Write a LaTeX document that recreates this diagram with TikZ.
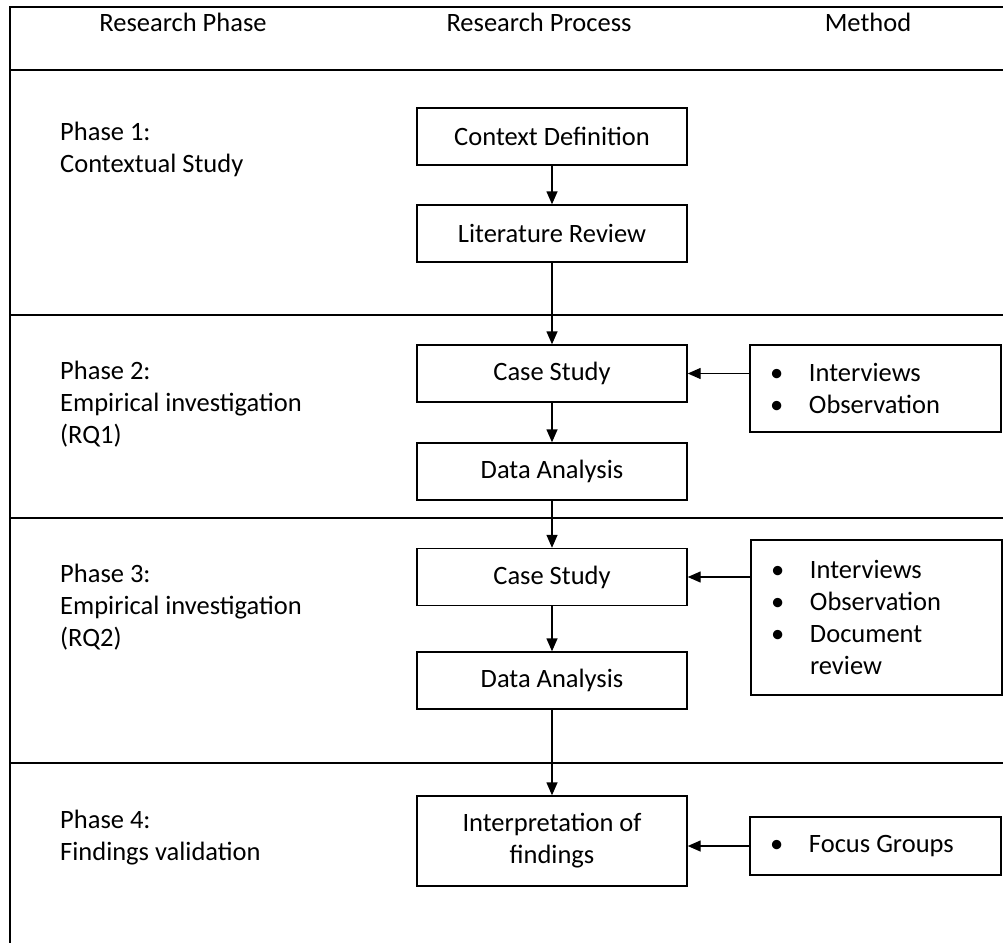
\documentclass[tikz,border=0pt]{standalone}
\usepackage{fontspec}
\setmainfont{Carlito}
\usetikzlibrary{positioning,arrows.meta}
\tikzset{%
  flowarrow/.style = {-{Triangle[length=13pt,width=11pt]},line width=1.4pt},
  rule/.style = {line width=1.4pt},
  procbox/.style = {rectangle,draw,line width=1.4pt,minimum width=270pt,
        minimum height=57pt,align=center,inner sep=0pt},
  methbox/.style = {rectangle,draw,line width=1.4pt,inner xsep=20pt,
        inner ysep=0pt,text width=211pt,align=left},
  phaselbl/.style = {anchor=west,align=left,inner sep=0pt},
  headlbl/.style = {inner sep=0pt}
}
\newcommand{\bitem}[1]{\makebox[39pt][l]{\textbullet}{\spaceskip=0pt #1}}
\begin{document}
\fontsize{26.5}{32}\selectfont
\begin{tikzpicture}[x=1pt,y=-1pt]
    \useasboundingbox (0,0) rectangle (1003,942);
    % frame and phase rules
    \draw[rule] (1010,7) -- (10,7) -- (10,950);
    \foreach \yy in {70,315,518,763}
        \draw[rule] (10,\yy) -- (1010,\yy);
    % headings
    \node[headlbl] (hphase) at (183,22) {Research Phase};
    \node[headlbl] (hproc) at (539,22) {Research Process};
    \node[headlbl] (hmeth) at (868,22) {Method};
    % phases
    \node[phaselbl] (ph1) at (60,149) {Phase 1:\\Contextual Study};
    \node[phaselbl] (ph2) at (60,404) {Phase 2:\\Empirical investigation\\(RQ1)};
    \node[phaselbl] (ph3) at (60,607) {Phase 3:\\Empirical investigation\\(RQ2)};
    \node[phaselbl] (ph4) at (60,838) {Phase 4:\\Findings validation};
    % process
    \node[procbox] (ctx) at (552,136.5) {Context Definition};
    \node[procbox] (lit) at (552,233.5) {Literature Review};
    \node[procbox] (cs1) at (552,373.5) {Case Study};
    \node[procbox] (da1) at (552,471.5) {Data Analysis};
    \node[procbox] (cs2) at (552,577) {Case Study};
    \node[procbox] (da2) at (552,680.5) {Data Analysis};
    \node[procbox,minimum height=90pt] (interp) at (552,841)
        {Interpretation of\\findings};
    % methods
    \node[methbox,minimum height=87pt] (m1) at (875.5,388.5)
        {\bitem{Interviews}\\\bitem{Observation}};
    \node[methbox,minimum height=155pt] (m2) at (876.5,617.5)
        {\bitem{Interviews}\\\bitem{Observation}\\\bitem{Document}\\\hspace*{39pt}review};
    \node[methbox,minimum height=58pt] (m3) at (875.5,846)
        {\bitem{Focus Groups}};
    % arrows
    \draw[flowarrow] (ctx) -- (lit);
    \draw[flowarrow] (lit) -- (cs1);
    \draw[flowarrow] (cs1) -- (da1);
    \draw[flowarrow] (da1) -- (cs2);
    \draw[flowarrow] (cs2) -- (da2);
    \draw[flowarrow] (da2) -- (interp);
    \draw[flowarrow] (m1.west |- cs1) -- (cs1);
    \draw[flowarrow] (m2.west |- cs2) -- (cs2);
    \draw[flowarrow] (m3) -- (m3 -| interp.east);
\end{tikzpicture}
\end{document}
